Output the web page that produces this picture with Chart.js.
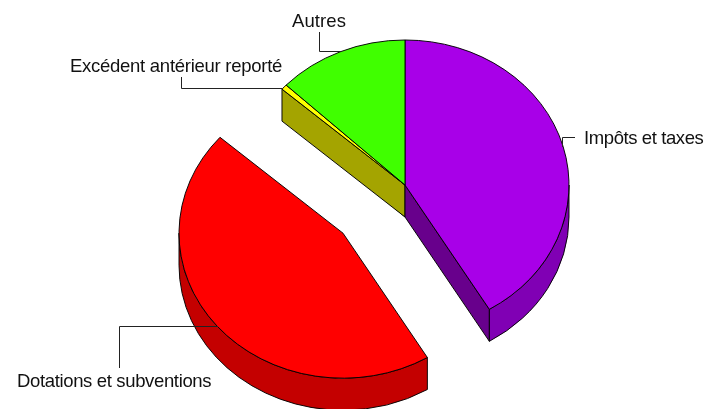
<!DOCTYPE html>
<html>
<head>
<meta charset="utf-8">
<style>
  html, body { margin: 0; padding: 0; background: #fff; }
  canvas { display: block; }
</style>
<script src="https://cdn.jsdelivr.net/npm/chart.js@4"></script>
</head>
<body>
<canvas id="pie" width="711" height="409"></canvas>
<script>
// clockwise from 12 o'clock
const categories = ['Impôts et taxes', 'Dotations et subventions', 'Excédent antérieur reporté', 'Autres'];
const values = [41.4, 45.1, 0.6, 12.9];
const topColors = ['#a800e8', '#ff0000', '#ffff00', '#40ff00'];
const rimColors = ['#8000b4', '#c40000', '#a4a400', '#2cb000'];
const cutColors = ['#68008c', '#a00000', '#a4a400', '#2cb000'];

const tilt = 145 / 164;
const depth = 32 / tilt;

// how far each slice is pulled out of the pie, before the tilt
const pullOut = [[0, 0], [-62, 54.5], [0, 0], [0, 0]];

// where the callouts sit
const labelBoxes = [
  { x: 584, y: 138.5, spacing: -0.4, line: [[575, 137.5], [562.5, 137.5], [562.5, 147]] },
  { x: 17, y: 381.5, spacing: -0.35, line: [[119.5, 368], [119.5, 326.5], [218, 326.5]] },
  { x: 70, y: 66.5, spacing: -0.27, line: [[181.5, 77], [181.5, 88.5], [282, 88.5]] },
  { x: 292, y: 21.5, spacing: 0.1, line: [[319.5, 32], [319.5, 51.5], [341, 51.5]] }
];

const pie3d = {
  id: 'pie3d',
  // the built in arc offset also grows the radius, so move the slices by hand
  afterDatasetsUpdate(chart) {
    chart.getDatasetMeta(0).data.forEach((a, i) => {
      a.x += pullOut[i][0];
      a.y += pullOut[i][1];
    });
  },
  beforeDatasetsDraw(chart) {
    const ctx = chart.ctx;
    const arcs = chart.getDatasetMeta(0).data;
    const cy = (chart.chartArea.top + chart.chartArea.bottom) / 2;
    ctx.save();
    ctx.translate(0, cy);
    ctx.scale(1, tilt);
    ctx.translate(0, -cy);
    ctx.strokeStyle = '#000';
    ctx.lineWidth = 1;
    ctx.lineJoin = 'bevel';

    const cutFace = (i, ang) => {
      const c = arcs[i];
      const ex = c.x + Math.cos(ang) * c.outerRadius;
      const ey = c.y + Math.sin(ang) * c.outerRadius;
      ctx.beginPath();
      ctx.moveTo(c.x, c.y);
      ctx.lineTo(ex, ey);
      ctx.lineTo(ex, ey + depth);
      ctx.lineTo(c.x, c.y + depth);
      ctx.closePath();
      ctx.fillStyle = cutColors[i];
      ctx.fill();
      ctx.stroke();
    };

    // back to front, so the thin yellow face ends on top of the green one
    for (let i = arcs.length - 1; i >= 0; i--) {
      const a = arcs[i];
      if (Math.cos(a.startAngle) < -1e-6) cutFace(i, a.startAngle);
      if (Math.cos(a.endAngle) > 1e-6) cutFace(i, a.endAngle);
    }
    for (let i = arcs.length - 1; i >= 0; i--) {
      const a = arcs[i];
      const from = Math.max(a.startAngle, 0);
      const to = Math.min(a.endAngle, Math.PI);
      if (to <= from) continue;
      ctx.beginPath();
      ctx.arc(a.x, a.y, a.outerRadius, from, to);
      ctx.arc(a.x, a.y + depth, a.outerRadius, to, from, true);
      ctx.closePath();
      ctx.fillStyle = rimColors[i];
      ctx.fill();
      ctx.stroke();
    }
  },
  afterDatasetsDraw(chart) {
    chart.ctx.restore();
    const ctx = chart.ctx;
    ctx.save();
    ctx.strokeStyle = '#222';
    ctx.lineWidth = 1;
    labelBoxes.forEach(b => {
      ctx.beginPath();
      b.line.forEach((p, k) => (k ? ctx.lineTo(p[0], p[1]) : ctx.moveTo(p[0], p[1])));
      ctx.stroke();
    });
    ctx.fillStyle = '#111';
    ctx.font = '18.5px "Liberation Sans"';
    ctx.textBaseline = 'middle';
    categories.forEach((name, i) => {
      ctx.letterSpacing = labelBoxes[i].spacing + 'px';
      ctx.fillText(name, labelBoxes[i].x, labelBoxes[i].y);
    });
    ctx.restore();
  }
};

new Chart(document.getElementById('pie').getContext('2d'), {
  type: 'pie',
  data: {
    labels: categories,
    datasets: [{
      data: values,
      backgroundColor: topColors,
      borderColor: '#000',
      borderWidth: 1
    }]
  },
  options: {
    responsive: false,
    animation: false,
    radius: 164,
    layout: { padding: { left: 99, bottom: 39 } },
    plugins: { legend: { display: false }, tooltip: { enabled: false } }
  },
  plugins: [pie3d]
});
</script>
</body>
</html>
